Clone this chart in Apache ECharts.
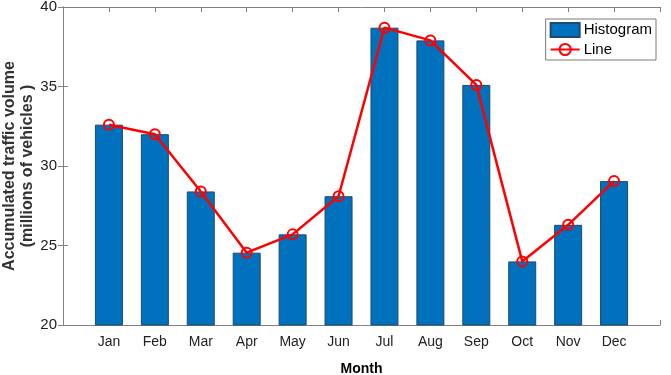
<!DOCTYPE html>
<html>
<head>
<meta charset="utf-8">
<script src="https://cdn.jsdelivr.net/npm/echarts@6/dist/echarts.min.js"></script>
<style>
html,body{margin:0;padding:0;background:#fff;}
#main{width:671px;height:375px;}
</style>
</head>
<body>
<div id="main"></div>
<script>
var months = ['Jan','Feb','Mar','Apr','May','Jun','Jul','Aug','Sep','Oct','Nov','Dec'];
var histData = [32.6, 32.0, 28.4, 24.55, 25.7, 28.1, 38.7, 37.9, 35.1, 24.0, 26.3, 29.05];//柱
var lineData = [32.6, 32.0, 28.4, 24.55, 25.7, 28.1, 38.7, 37.9, 35.1, 24.0, 26.3, 29.05];//折线
var yTicks = [20, 25, 30, 35, 40];

var axisGray = '#808080';
var font = 'Arial, "Liberation Sans", sans-serif';

var barPts = [];
var linePts = [];
for (var i = 0; i < months.length; i++) {
    barPts.push([i + 1, histData[i]]);
    linePts.push([i + 1, lineData[i]]);
}

var myChart = echarts.init(document.getElementById('main'));
var option = {
    animation: false,
    grid: {left: 63, right: 11, top: 7, bottom: 50, outerBoundsMode: 'none'},
    legend: {
        right: 15,
        top: 19,
        orient: 'vertical',
        borderColor: '#7a7a7a',
        borderWidth: 1,
        padding: [3, 4, 3, 4],
        itemGap: 4,
        itemWidth: 29,
        itemHeight: 14,
        textStyle: {fontFamily: font, fontSize: 15, lineHeight: 15, color: '#000', padding: [0, 0, 0, -1]},
        data: [{name: 'Histogram', icon: 'rect'}, 'Line']
    },
    xAxis: [
        {
            type: 'value',
            min: 0,
            max: 13,
            interval: 1,
            name: 'Month',
            nameLocation: 'middle',
            nameGap: 37,
            nameMoveOverlap: false,
            nameTextStyle: {fontFamily: font, fontSize: 14, fontWeight: 'bold', color: '#000'},
            axisLine: {lineStyle: {color: axisGray}},
            axisTick: {inside: true, length: 5, lineStyle: {color: axisGray}},
            splitLine: {show: false},
            axisLabel: {
                fontFamily: font, fontSize: 14, color: '#222', margin: 10,
                formatter: function (v) { return (v >= 1 && v <= 12) ? months[v - 1] : ''; }
            }
        },
        {
            type: 'value',
            position: 'top',
            min: 0,
            max: 13,
            interval: 1,
            axisLine: {show: true, lineStyle: {color: axisGray}},
            axisTick: {inside: true, length: 5, lineStyle: {color: axisGray}},
            axisLabel: {show: false},
            splitLine: {show: false}
        }
    ],
    yAxis: [
        {
            type: 'value',
            min: yTicks[0],
            max: yTicks[yTicks.length - 1],
            interval: 5,
            name: 'Accumulated traffic volume\n(millions of vehicles )',
            nameLocation: 'middle',
            nameGap: 26,
            nameMoveOverlap: false,
            nameTextStyle: {fontFamily: font, fontSize: 16, fontWeight: 'bold', color: '#333', lineHeight: 18},
            axisLine: {show: true, lineStyle: {color: axisGray}},
            axisTick: {inside: true, length: 5, lineStyle: {color: axisGray}},
            splitLine: {show: false},
            axisLabel: {fontFamily: font, fontSize: 15, color: '#222', margin: 6}
        },
        {
            type: 'value',
            position: 'right',
            min: yTicks[0],
            max: yTicks[yTicks.length - 1],
            interval: 5,
            axisLine: {show: true, lineStyle: {color: axisGray}},
            axisTick: {inside: true, length: 5, lineStyle: {color: axisGray}},
            axisLabel: {show: false},
            splitLine: {show: false}
        }
    ],
    series: [
        {
            name: 'Histogram',
            type: 'bar',
            data: barPts,
            barWidth: 28,
            itemStyle: {color: '#0072BD', borderColor: '#1d4a73', borderWidth: 1}
        },
        {
            name: 'Line',
            type: 'line',
            data: linePts,
            symbol: 'circle',
            symbolSize: 10,
            lineStyle: {color: '#FF0000', width: 2.5},
            itemStyle: {color: 'rgba(255,255,255,0)', borderColor: '#FF0000', borderWidth: 2}
        }
    ]
};
myChart.setOption(option);
</script>
</body>
</html>
